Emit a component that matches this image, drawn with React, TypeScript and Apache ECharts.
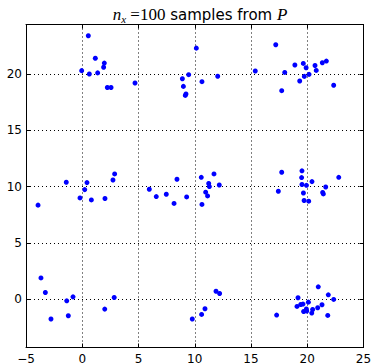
import React, { useEffect, useRef } from "react";
import * as echarts from "echarts";

// Top row of clusters (y ≈ 20)
const topX = [0.54, 1.16, 1.96, 1.9, -0.05, 1.37, 0.63, 2.23, 2.56, 4.69,
  10.14, 9.46, 8.9, 10.64, 12.04, 8.99, 9.22, 9.16,
  17.2, 15.38, 18.0, 18.9, 19.65, 19.9, 19.74, 20.16, 19.33, 20.69, 20.8, 21.34, 21.7, 17.73, 22.35];
const topY = [23.4, 21.4, 20.97, 20.6, 20.3, 20.1, 20.0, 18.8, 18.8, 19.2,
  22.3, 19.94, 19.58, 19.32, 19.8, 18.9, 18.23, 18.1,
  22.6, 20.27, 20.14, 20.8, 20.94, 20.56, 19.79, 19.97, 19.38, 20.76, 20.32, 21.0, 21.15, 18.52, 19.0];

// Middle row of clusters (y ≈ 10)
const midX = [-3.93, -1.42, -0.2, 0.22, 0.42, 0.81, 2.02, 2.73, 2.88,
  5.96, 6.58, 7.47, 8.16, 8.42, 9.28, 10.58, 11.71, 11.24, 11.3, 12.18, 10.97, 11.14, 10.64,
  17.73, 19.53, 19.5, 20.42, 19.53, 19.93, 21.64, 22.8, 17.43, 19.66, 21.37, 21.43, 19.72, 20.13];
const midY = [8.35, 10.38, 8.99, 9.73, 10.35, 8.81, 8.94, 10.58, 11.12,
  9.76, 9.11, 9.32, 8.5, 10.65, 9.08, 10.82, 11.12, 10.27, 10.0, 10.14, 9.5, 9.17, 8.41,
  11.27, 11.4, 10.8, 10.44, 10.18, 10.11, 9.96, 10.82, 9.58, 9.43, 9.47, 9.35, 8.76, 8.7];

// Bottom row of clusters (y ≈ 0)
const botX = [-3.67, -3.28, -0.82, -1.38, -2.78, -1.24, 2.0, 2.84,
  11.89, 12.21, 10.91, 10.61, 9.78,
  17.28, 20.98, 21.87, 22.35, 19.18, 20.1, 19.42, 19.62, 19.09, 21.31, 20.93, 20.48, 19.68, 19.95, 19.92, 20.4, 21.82];
const botY = [1.88, 0.59, 0.2, -0.15, -1.77, -1.48, -0.89, 0.14,
  0.7, 0.5, -0.86, -1.36, -1.77,
  -1.42, 1.09, 0.38, -0.03, 0.12, -0.27, -0.48, -0.44, -0.65, -0.5, -0.77, -0.92, -1.1, -1.06, -0.88, -1.24, -1.45];

const xMin = -5;
const xMax = 25;
const xStep = 5;
const yMin = -4.3;
const yMax = 24.4;

const fmt = (v: number) => (v < 0 ? "\u2212" + Math.abs(v) : String(v));

export default function App() {
  const ref = useRef<HTMLDivElement>(null);
  useEffect(() => {
    if (!ref.current) return;
    const chart = echarts.init(ref.current, undefined, { renderer: "svg" });
    const pts: number[][] = [];
    [
      [topX, topY],
      [midX, midY],
      [botX, botY],
    ].forEach(([xs, ys]) => xs.forEach((x, i) => pts.push([x, ys[i]])));

    const font = "DejaVu Sans";
    const serif = "Liberation Serif";
    const gridLine = { show: true, lineStyle: { color: "#000", width: 1, type: [1, 3] as any } };
    const axisLine = { show: true, onZero: false, lineStyle: { color: "#000", width: 1 } };
    const tick = { show: true, inside: true, length: 4, lineStyle: { color: "#000" } };

    chart.setOption({
      animation: false,
      backgroundColor: "#fff",
      title: {
        text: "{m|n}{s|x}{r| =100}{t| samples from }{m|P}",
        left: 195,
        top: 0,
        textAlign: "center",
        textStyle: {
          fontWeight: "normal",
          rich: {
            m: { fontFamily: serif, fontStyle: "italic", fontWeight: "normal", fontSize: 17, color: "#000" },
            s: { fontFamily: serif, fontStyle: "italic", fontWeight: "normal", fontSize: 11, color: "#000", padding: [8, 0, 0, 0] },
            r: { fontFamily: serif, fontWeight: "normal", fontSize: 17, color: "#000" },
            t: { fontFamily: font, fontWeight: "normal", fontSize: 15, color: "#000" },
          },
        },
      },
      grid: {
        left: 26,
        right: 11.5,
        top: 24.5,
        bottom: 16.5,
        outerBoundsMode: "none",
        containLabel: false,
      },
      xAxis: [
        {
          type: "value",
          min: xMin,
          max: xMax,
          interval: xStep,
          axisLine,
          axisTick: tick,
          splitLine: gridLine,
          axisLabel: { color: "#000", fontFamily: font, fontSize: 12, margin: 5, formatter: fmt },
        },
        {
          type: "value",
          position: "top",
          min: xMin,
          max: xMax,
          interval: xStep,
          axisLine,
          axisTick: tick,
          splitLine: { show: false },
          axisLabel: { show: false },
        },
      ],
      yAxis: [
        {
          type: "value",
          min: yMin,
          max: yMax,
          splitNumber: 5,
          axisLine,
          axisTick: tick,
          splitLine: gridLine,
          axisLabel: {
            color: "#000",
            fontFamily: font,
            fontSize: 12,
            margin: 4,
            showMinLabel: false,
            showMaxLabel: false,
            formatter: fmt,
          },
        },
        {
          type: "value",
          position: "right",
          min: yMin,
          max: yMax,
          splitNumber: 5,
          axisLine,
          axisTick: tick,
          splitLine: { show: false },
          axisLabel: { show: false },
        },
      ],
      series: [
        {
          type: "scatter",
          data: pts,
          symbolSize: 5,
          itemStyle: { color: "#0000ff", opacity: 1 },
        },
      ],
    });
    return () => chart.dispose();
  }, []);
  return (
    <div
      ref={ref}
      style={{ position: "fixed", left: 0, top: 0, width: 375, height: 364, background: "#fff" }}
    />
  );
}
